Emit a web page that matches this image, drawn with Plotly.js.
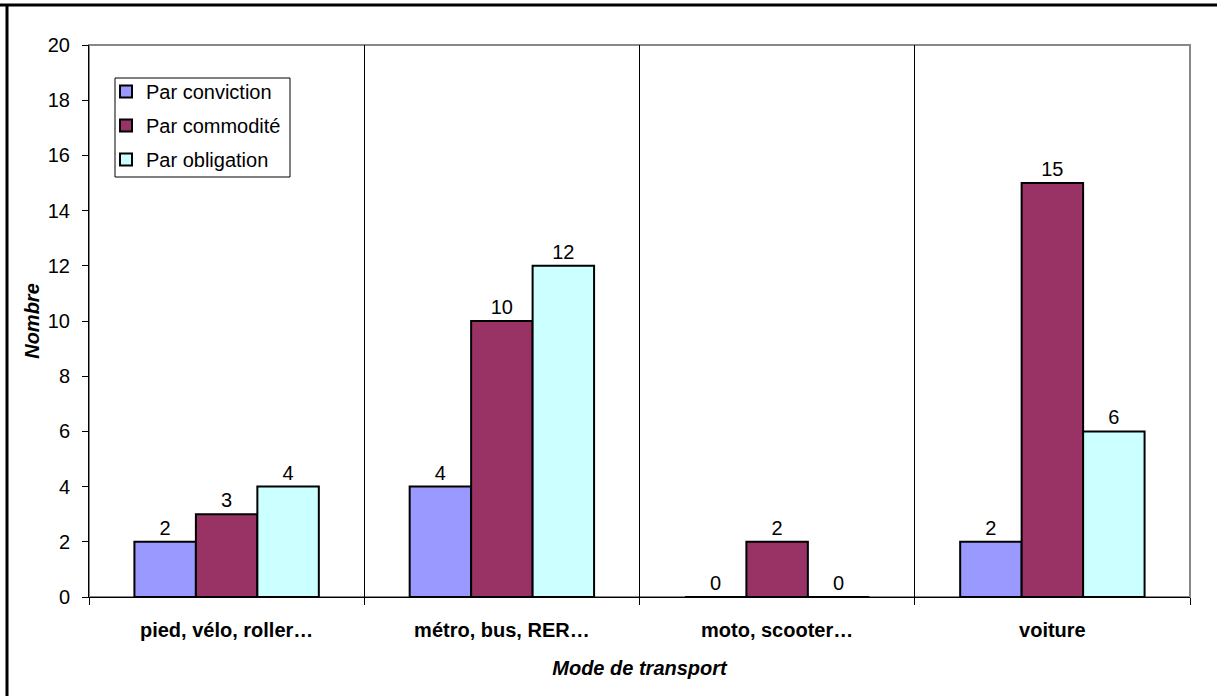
<!DOCTYPE html>
<html>
<head>
<meta charset="utf-8">
<script src="https://cdn.plot.ly/plotly-3.0.1.min.js"></script>
<style>
html,body{margin:0;padding:0;background:#fff;}
#chart{width:1217px;height:696px;}
</style>
</head>
<body>
<div id="chart"></div>
<script>
const categories = ["pied, vélo, roller…", "métro, bus, RER…", "moto, scooter…", "voiture"];
const seriesNames = ["Par conviction", "Par commodité", "Par obligation"];
const conviction = [2, 4, 0, 2];
const commodite = [3, 10, 2, 15];
const obligation = [4, 12, 0, 6];
const colors = ["#9999FF", "#993366", "#CCFFFF"];
const yTicks = [0, 2, 4, 6, 8, 10, 12, 14, 16, 18, 20];

const values = [conviction, commodite, obligation];
const font = "Liberation Sans, Arial, sans-serif";

const traces = values.map((v, i) => ({
  type: "bar",
  name: seriesNames[i],
  legendgroup: "g" + i,
  x: categories,
  y: v,
  text: v.map(String),
  textposition: "outside",
  cliponaxis: false,
  textfont: {family: font, size: 20, color: "#000"},
  marker: {color: colors[i], line: {color: "#000", width: 2}},
  hoverinfo: "x+y+name"
}));

const layout = {
  width: 1217,
  height: 696,
  margin: {l: 89, r: 27, t: 45, b: 99},
  paper_bgcolor: "#fff",
  plot_bgcolor: "#fff",
  barmode: "group",
  bargap: 0.33,
  bargroupgap: 0,
  showlegend: true,
  font: {family: font, size: 20, color: "#000"},
  legend: {
    x: 17/1101, y: 0.951, xanchor: "left", yanchor: "top",
    bgcolor: "rgba(0,0,0,0)", borderwidth: 0,
    font: {family: font, size: 20, color: "#000"},
    traceorder: "grouped",
    tracegroupgap: 5,
    itemwidth: 30
  },
  xaxis: {
    type: "category",
    tickson: "boundaries",
    ticks: "outside",
    ticklen: 7,
    tickcolor: "#000",
    showgrid: true,
    gridcolor: "#000",
    gridwidth: 1,
    showline: true,
    linecolor: "#000",
    linewidth: 1,
    ticklabelstandoff: 15,
    tickfont: {family: font, size: 20, color: "#000", weight: "bold"},
    title: {text: "<b><i>Mode de transport</i></b>", font: {family: font, size: 20, color: "#000"}, standoff: 20},
    fixedrange: true
  },
  yaxis: {
    range: [0, 20],
    tickvals: yTicks,
    ticktext: yTicks.map(String),
    ticks: "outside",
    ticklen: 6,
    tickcolor: "#000",
    showgrid: false,
    zeroline: false,
    showline: true,
    linecolor: "#000",
    linewidth: 1,
    ticklabelstandoff: 8,
    tickfont: {family: font, size: 20, color: "#000"},
    title: {text: "<b><i>Nombre</i></b>", font: {family: font, size: 20, color: "#000"}, standoff: -2},
    fixedrange: true
  },
  shapes: [
    {type: "rect", xref: "paper", yref: "paper", x0: 0, x1: 1, y0: 0, y1: 1,
     line: {color: "#888", width: 2}, layer: "below"},
    {type: "rect", xref: "paper", yref: "paper", x0: 26/1101, x1: 201/1101, y0: 1 - 33/552, y1: 1 - 132/552,
     line: {color: "#000", width: 1}, fillcolor: "#fff", layer: "above"},
    {type: "line", xref: "paper", yref: "paper", x0: -89/1101, x1: 1.1, y0: 1 + 40/552, y1: 1 + 40/552,
     line: {color: "#000", width: 3}},
    {type: "line", xref: "paper", yref: "paper", x0: -82/1101, x1: -82/1101, y0: 1 + 41/552, y1: -0.3,
     line: {color: "#000", width: 3}}
  ]
};

Plotly.newPlot("chart", traces, layout, {displayModeBar: false, staticPlot: true});
</script>
</body>
</html>
